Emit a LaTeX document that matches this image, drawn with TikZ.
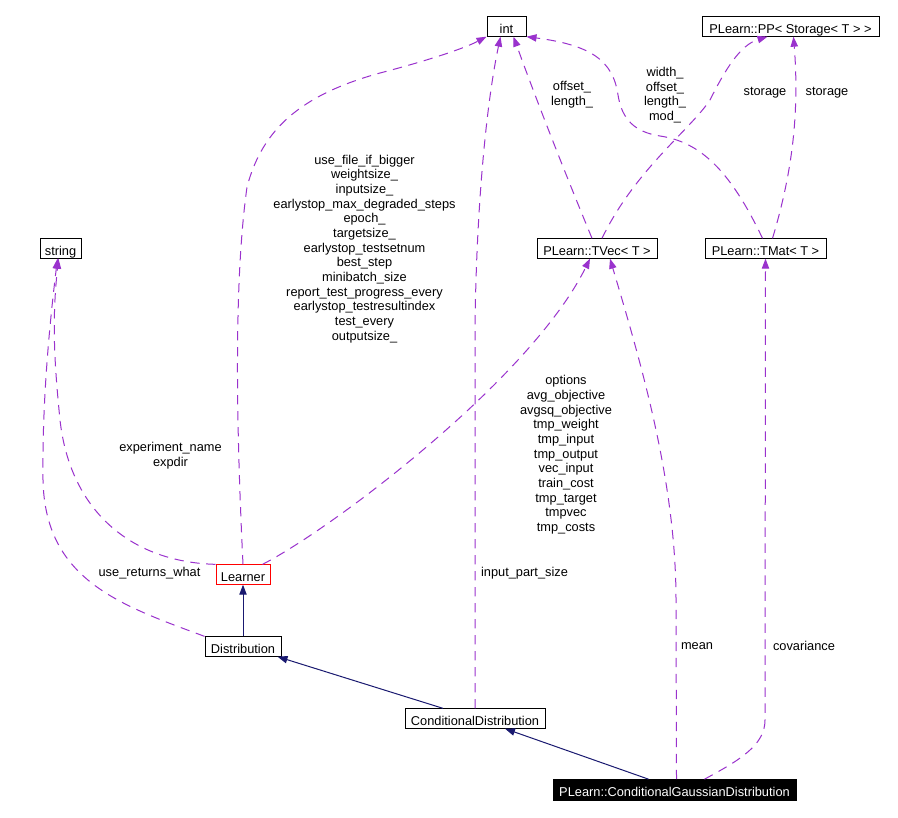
\documentclass[tikz,border=0pt]{standalone}
\usepackage{fontspec}
\setmainfont{Liberation Sans}
\usetikzlibrary{arrows.meta,calc}
\definecolor{usecolor}{RGB}{154,50,205}
\definecolor{inhcolor}{RGB}{25,25,112}

\begin{document}
\begin{tikzpicture}[x=0.75pt,y=-0.75pt,
    font=\fontsize{9.6}{11}\selectfont,
    cls/.style={draw,line width=0.75pt,inner sep=1pt,minimum height=14.5pt,
      text height=10pt,text depth=0pt},
    usage/.style={usecolor,line width=0.75pt,dash pattern=on 7pt off 5pt,
      -{Triangle[length=7.5pt,width=5.5pt]}},
    inherit/.style={inhcolor,line width=0.75pt,
      -{Triangle[length=7.5pt,width=5.5pt]}},
    lbl/.style={align=center,inner sep=0pt}]
  \fill[white] (0,0) rectangle (898,817);
  \useasboundingbox (0,0) rectangle (898,817);
  % classes
  \node[cls,minimum width=29.25pt] (int) at (506.5,26.5) {int};
  \node[cls,minimum width=132.75pt] (pp) at (790.5,26.5) {PLearn::PP< Storage< T > >};
  \node[cls,minimum width=30.75pt] (string) at (60.5,248.5) {string};
  \node[cls,minimum width=90pt] (tvec) at (597,248.5) {PLearn::TVec< T >};
  \node[cls,minimum width=90.75pt] (tmat) at (765.5,248.5) {PLearn::TMat< T >};
  \node[cls,draw=red,minimum width=40.5pt] (learner) at (243,574.5) {Learner};
  \node[cls,minimum width=57pt] (dist) at (243,646.5) {Distribution};
  \node[cls,minimum width=105pt] (cd) at (475,718.5) {ConditionalDistribution};
  \node[cls,fill=black,text=white,minimum width=182.25pt,minimum height=15.5pt] (cgd)
    at (674.5,790) {PLearn::ConditionalGaussianDistribution};
  % inheritance
  \draw[inherit] (dist.north) -- (learner.south);
  \draw[inherit] ($(cd.north)+(-32,0)$) -- ($(dist.south east)+(-4,0)$);
  \draw[inherit] ($(cgd.north)+(-26,0)$) -- ($(cd.south)+(30,0)$);
  % members
  \draw[usage] (learner.north) .. controls (236,420) and (234,280) .. (247,187)
    .. controls (262,130) and (300,95) .. (380,73)
    .. controls (430,60) and (465,48) .. (int.south west);
  \draw[usage] (cd.north) -- (475,330) .. controls (476,220) and (485,110) .. ($(int.south)+(-6,0)$);
  \draw[usage] ($(tvec.north)+(-5,0)$) .. controls (570,185) and (540,110) .. ($(int.south)+(7,0)$);
  \draw[usage] ($(tmat.north)+(-3,0)$) .. controls (730,170) and (700,142) .. (660,136)
    .. controls (635,132) and (622,120) .. (618,95)
    .. controls (613,60) and (590,45) .. (int.south east);
  \draw[usage] ($(tvec.north)+(5,0)$) .. controls (635,170) and (690,130) .. (710,100)
    .. controls (725,70) and (740,45) .. ($(pp.south)+(-23,0)$);
  \draw[usage] ($(tmat.north)+(7,0)$) .. controls (790,180) and (800,120) .. ($(pp.south)+(3,0)$);
  \draw[usage] (learner.north west) .. controls (130,562) and (70,510) .. (60,420)
    .. controls (54,360) and (52,320) .. ($(string.south)+(-2,0)$);
  \draw[usage] (dist.north west) .. controls (120,605) and (45,580) .. (43,480)
    .. controls (42,400) and (50,320) .. ($(string.south)+(-3,0)$);
  \draw[usage] ($(learner.north east)+(-8,0)$) .. controls (330,530) and (530,380) .. ($(tvec.south)+(-7,0)$);
  \draw[usage] ($(cgd.north)+(2,0)$) -- (676,600) .. controls (676,480) and (640,360) .. ($(tvec.south)+(13,0)$);
  \draw[usage] ($(cgd.north)+(30,0)$) .. controls (740,760) and (765,745) .. (765,720) -- (tmat.south);
  % labels
  \node[lbl] (l-learner-int) at (364.5,249) {use\_file\_if\_bigger\\weightsize\_\\inputsize\_\\earlystop\_max\_degraded\_steps\\epoch\_\\targetsize\_\\earlystop\_testsetnum\\best\_step\\minibatch\_size\\report\_test\_progress\_every\\earlystop\_testresultindex\\test\_every\\outputsize\_};
  \node[lbl] (l-tvec-int) at (572,94.5) {offset\_\\length\_};
  \node[lbl] (l-tmat-int) at (665,95) {width\_\\offset\_\\length\_\\mod\_};
  \node[lbl] (l-tvec-pp) at (765,93) {storage};
  \node[lbl] (l-tmat-pp) at (827,93) {storage};
  \node[lbl] (l-learner-string) at (170.5,456) {experiment\_name\\expdir};
  \node[lbl] (l-dist-string) at (149.5,573) {use\_returns\_what};
  \node[lbl] (l-learner-tvec) at (566,455) {options\\avg\_objective\\avgsq\_objective\\tmp\_weight\\tmp\_input\\tmp\_output\\vec\_input\\train\_cost\\tmp\_target\\tmpvec\\tmp\_costs};
  \node[lbl] (l-cd-int) at (524.5,573) {input\_part\_size};
  \node[lbl] (l-cgd-tvec) at (697,646) {mean};
  \node[lbl] (l-cgd-tmat) at (804,646) {covariance};
\end{tikzpicture}
\end{document}
